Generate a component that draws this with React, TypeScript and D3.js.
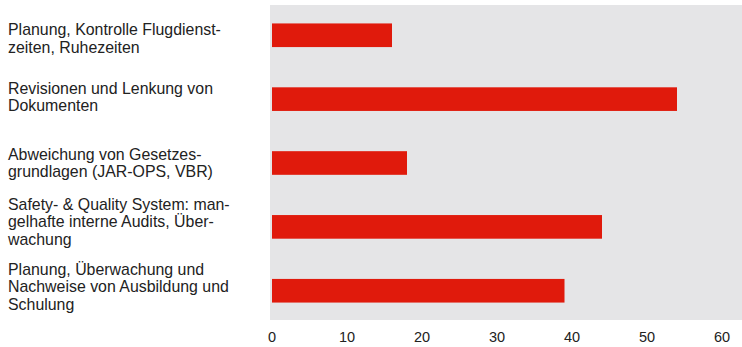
import React from "react";
import * as d3 from "d3";

// Findings per area (count of findings)
const categories: string[][] = [
  ["Planung, Kontrolle Flugdienst-", "zeiten, Ruhezeiten"],
  ["Revisionen und Lenkung von", "Dokumenten"],
  ["Abweichung von Gesetzes-", "grundlagen (JAR-OPS, VBR)"],
  ["Safety- & Quality System: man-", "gelhafte interne Audits, Über-", "wachung"],
  ["Planung, Überwachung und", "Nachweise von Ausbildung und", "Schulung"],
];
const values: number[] = [16, 54, 18, 44, 39];
const tickValues: number[] = [0, 10, 20, 30, 40, 50, 60];

const W = 742;
const H = 347;

// vertical nudge of each label block relative to its bar centre
const labelShift = [3, -2, 0, -5, -4];

export default function App() {
  const plotLeft = 270;
  const plotTop = 5;
  const plotBottom = 320;

  const x = d3.scaleLinear().domain([0, 60]).range([272, 722]);
  const y = d3
    .scaleBand<number>()
    .domain(d3.range(values.length))
    .range([3, 323])
    .paddingInner(0.63)
    .paddingOuter(0.32);

  const lineH = 17.5;
  const fontFamily = "'Liberation Sans', Arial, Helvetica, sans-serif";

  return (
    <svg
      width={W}
      height={H}
      style={{ position: "absolute", left: 0, top: 0, background: "#ffffff" }}
    >
      <rect
        x={plotLeft}
        y={plotTop}
        width={W - plotLeft}
        height={plotBottom - plotTop}
        fill="#e5e5e7"
      />
      {values.map((v, i) => (
        <rect
          key={i}
          x={x(0)}
          y={y(i)!}
          width={x(v) - x(0)}
          height={y.bandwidth()}
          fill="#e01a0c"
        />
      ))}
      {categories.map((lines, i) => {
        const cy = y(i)! + y.bandwidth() / 2 + labelShift[i];
        const start = cy - ((lines.length - 1) * lineH) / 2;
        return (
          <text key={i} fontFamily={fontFamily} fontSize={15.9} fill="#222">
            {lines.map((l, j) => (
              <tspan key={j} x={8} y={start + j * lineH} dominantBaseline="central">
                {l}
              </tspan>
            ))}
          </text>
        );
      })}
      {tickValues.map((t) => (
        <text
          key={t}
          x={x(t)}
          y={337}
          textAnchor="middle"
          dominantBaseline="central"
          fontFamily={fontFamily}
          fontSize={14.5}
          fill="#222"
        >
          {t}
        </text>
      ))}
    </svg>
  );
}
